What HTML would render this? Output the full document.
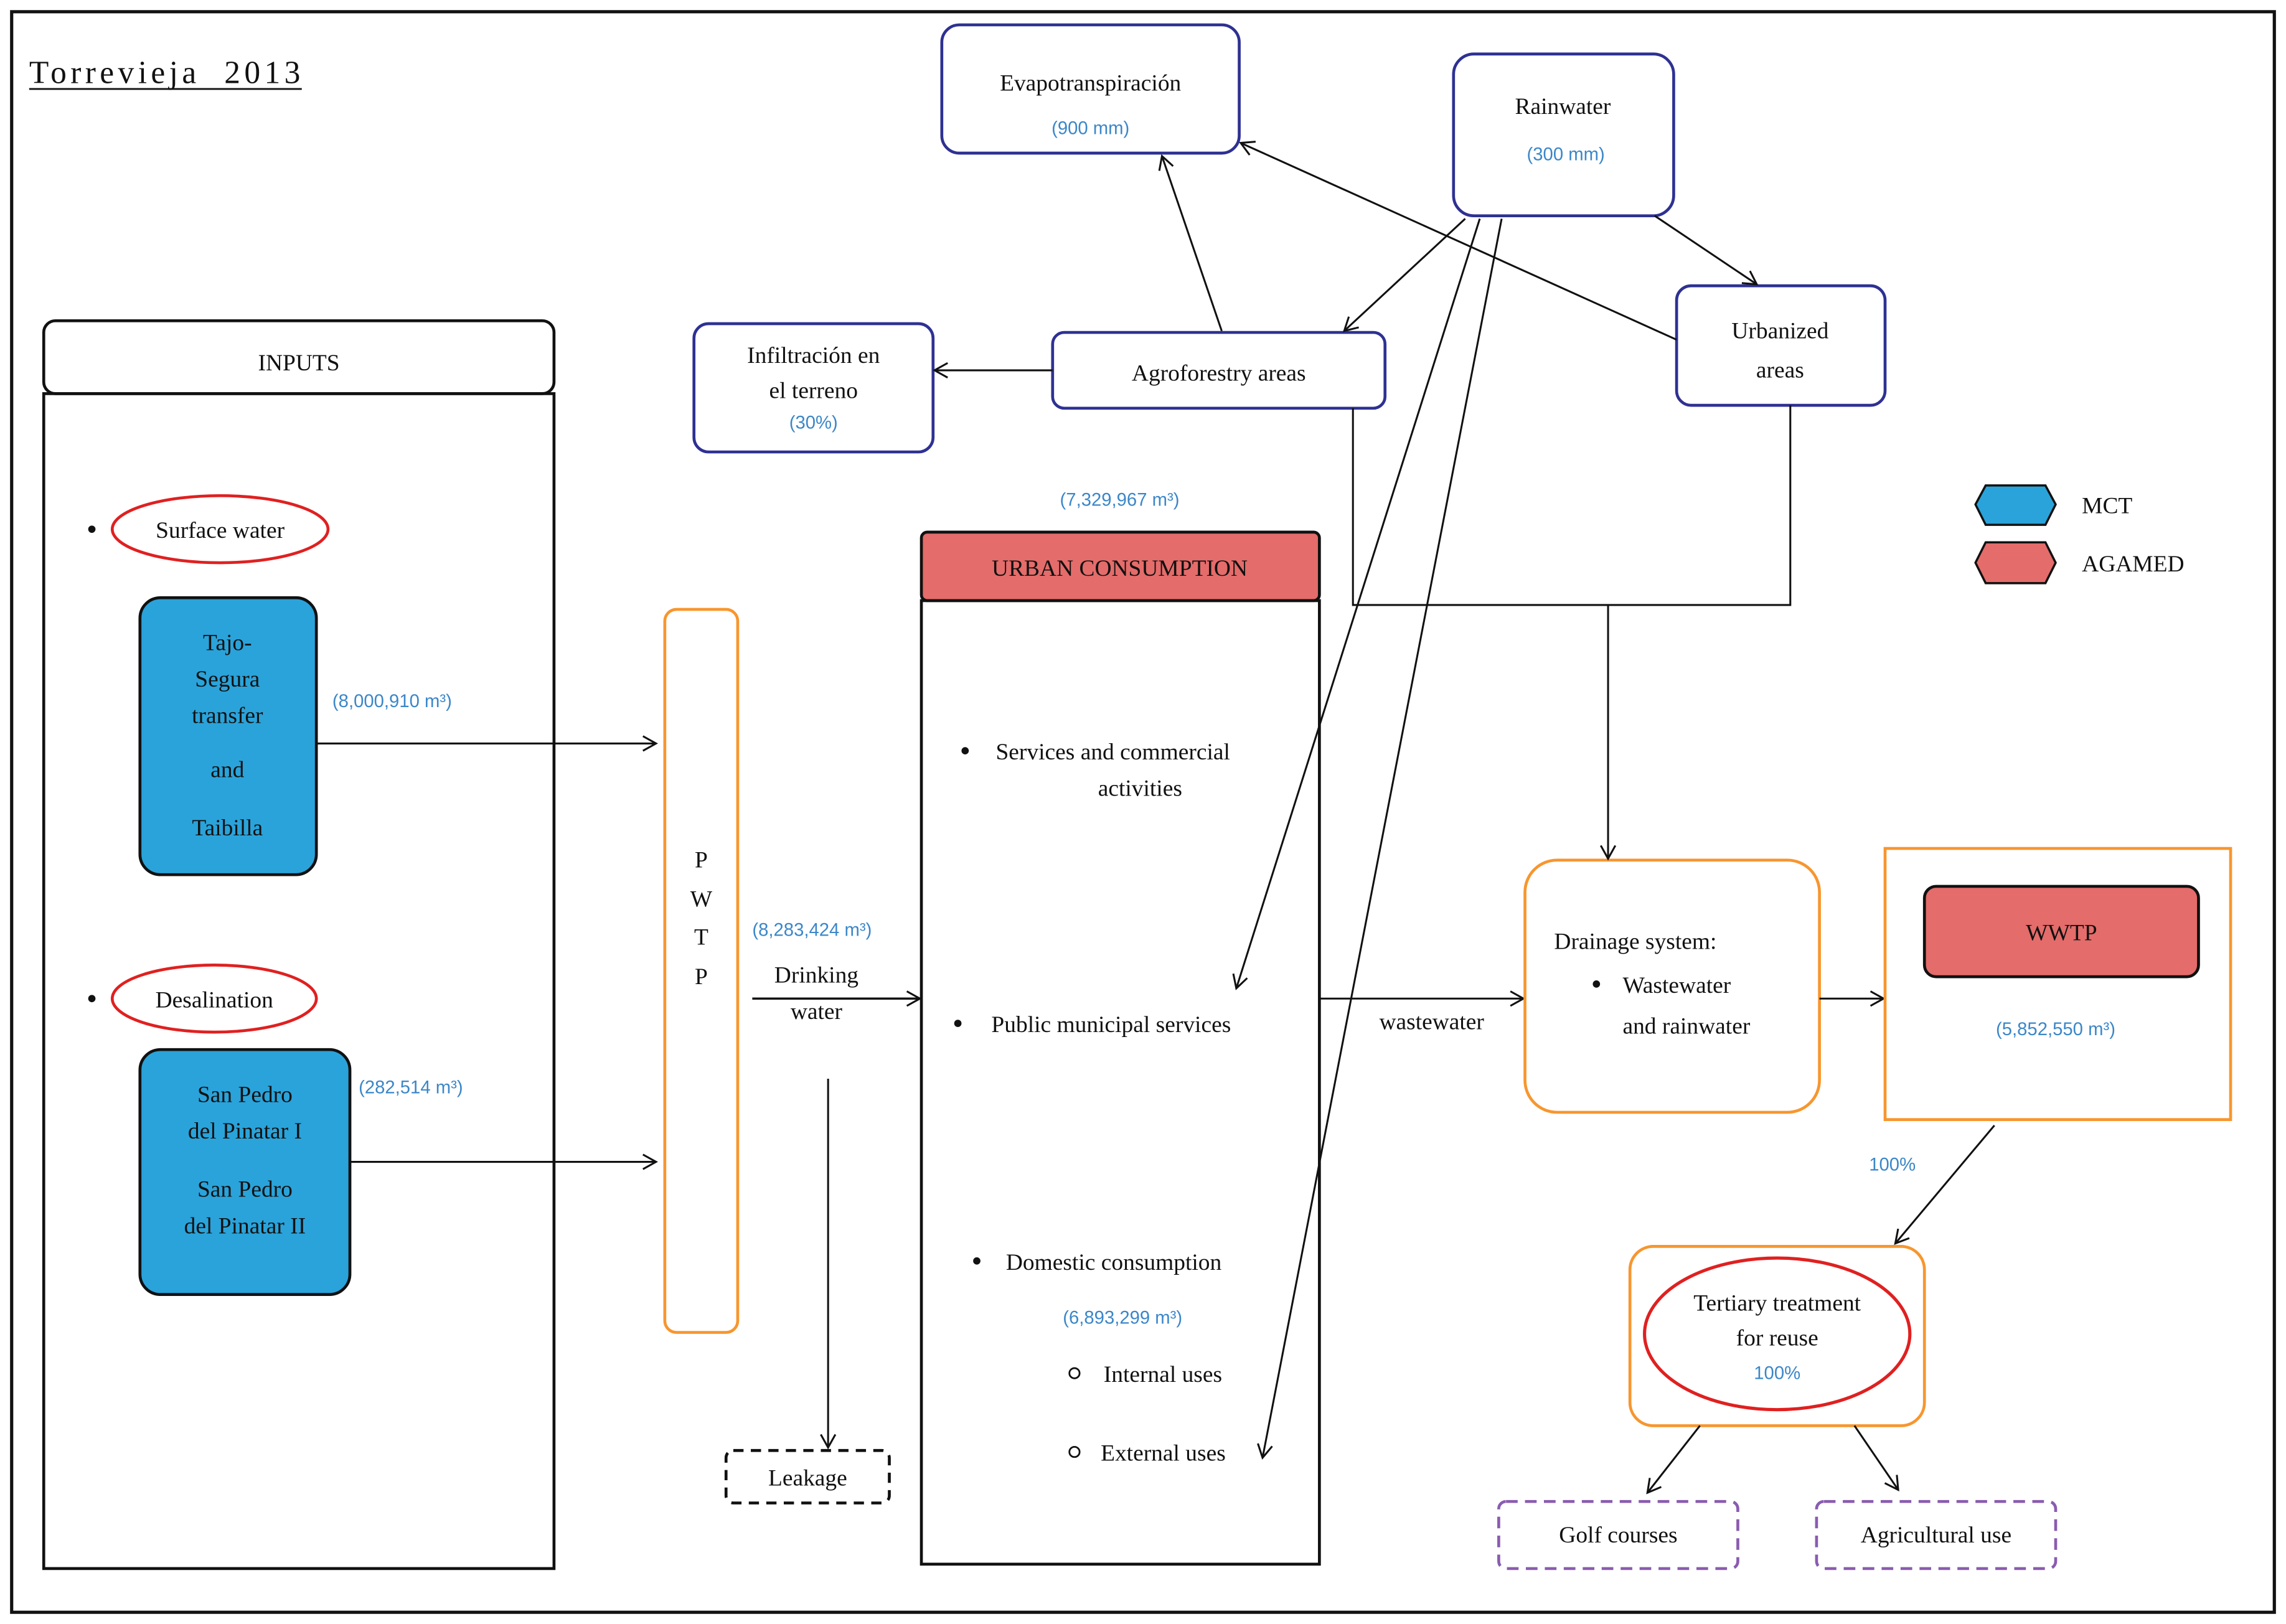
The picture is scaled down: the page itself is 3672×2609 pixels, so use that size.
<!DOCTYPE html>
<html><head><meta charset="utf-8"><style>
html,body{margin:0;padding:0;background:#fff;}
svg{display:block;}
text{font-family:"Liberation Serif",serif;font-size:16px;fill:#111;}
.b{font-family:"Liberation Sans",sans-serif;font-size:12.5px;fill:#3b87c9;}
.c{text-anchor:middle;}
</style></head><body>
<svg width="3672" height="2609" viewBox="0 0 1568 1114" xmlns="http://www.w3.org/2000/svg">
<defs>
<marker id="a" markerWidth="12" markerHeight="12" refX="10" refY="6" orient="auto" markerUnits="userSpaceOnUse">
<path d="M1,1 L10,6 L1,11" fill="none" stroke="#111" stroke-width="1.3"/></marker>
</defs>
<rect x="0" y="0" width="1568" height="1114" fill="#fff"/>
<rect x="8" y="8" width="1552" height="1098" fill="none" stroke="#111" stroke-width="2.2"/>
<text x="20" y="57" style="font-size:22px" textLength="186" lengthAdjust="spacing">Torrevieja&#160;&#160;2013</text>
<line x1="20" y1="61" x2="207" y2="61" stroke="#111" stroke-width="1.2"/>

<!-- INPUTS -->
<rect x="30" y="220" width="350" height="50" rx="8" fill="#fff" stroke="#111" stroke-width="2"/>
<text x="205" y="254" class="c">INPUTS</text>
<rect x="30" y="270" width="350" height="806" fill="none" stroke="#111" stroke-width="2"/>
<circle cx="63" cy="363" r="2.5" fill="#111"/>
<ellipse cx="151" cy="363" rx="74" ry="23" fill="none" stroke="#e02020" stroke-width="2"/>
<text x="151" y="369" class="c">Surface water</text>
<rect x="96" y="410" width="121" height="190" rx="14" fill="#2aa3da" stroke="#111" stroke-width="2"/>
<text x="156" y="446" class="c">Tajo-</text>
<text x="156" y="471" class="c">Segura</text>
<text x="156" y="496" class="c">transfer</text>
<text x="156" y="533" class="c">and</text>
<text x="156" y="573" class="c">Taibilla</text>
<text x="228" y="485" class="b">(8,000,910 m³)</text>
<line x1="217" y1="510" x2="450" y2="510" stroke="#111" stroke-width="1.3" marker-end="url(#a)"/>
<circle cx="63" cy="685" r="2.5" fill="#111"/>
<ellipse cx="147" cy="685" rx="70" ry="23" fill="none" stroke="#e02020" stroke-width="2"/>
<text x="147" y="691" class="c">Desalination</text>
<rect x="96" y="720" width="144" height="168" rx="14" fill="#2aa3da" stroke="#111" stroke-width="2"/>
<text x="168" y="756" class="c">San Pedro</text>
<text x="168" y="781" class="c">del Pinatar I</text>
<text x="168" y="821" class="c">San Pedro</text>
<text x="168" y="846" class="c">del Pinatar II</text>
<text x="246" y="750" class="b">(282,514 m³)</text>
<line x1="240" y1="797" x2="450" y2="797" stroke="#111" stroke-width="1.3" marker-end="url(#a)"/>

<!-- PWTP -->
<rect x="456" y="418" width="50" height="496" rx="8" fill="none" stroke="#f7962e" stroke-width="2"/>
<text x="481" y="595" class="c">P</text>
<text x="481" y="622" class="c">W</text>
<text x="481" y="648" class="c">T</text>
<text x="481" y="675" class="c">P</text>
<text x="516" y="642" class="b">(8,283,424 m³)</text>
<text x="560" y="674" class="c">Drinking</text>
<text x="560" y="699" class="c">water</text>
<line x1="516" y1="685" x2="631" y2="685" stroke="#111" stroke-width="1.5" marker-end="url(#a)"/>
<line x1="568" y1="740" x2="568" y2="993" stroke="#111" stroke-width="1.3" marker-end="url(#a)"/>
<rect x="498" y="995" width="112" height="36" rx="5" fill="none" stroke="#111" stroke-width="2" stroke-dasharray="7,5"/>
<text x="554" y="1019" class="c">Leakage</text>

<!-- URBAN -->
<text x="768" y="347" class="b c">(7,329,967 m³)</text>
<rect x="632" y="365" width="273" height="47" rx="4" fill="#e46c6a" stroke="#111" stroke-width="2"/>
<text x="768" y="395" class="c">URBAN CONSUMPTION</text>
<rect x="632" y="412" width="273" height="661" fill="none" stroke="#111" stroke-width="2"/>
<circle cx="662" cy="515" r="2.5" fill="#111"/>
<text x="683" y="521">Services and commercial</text>
<text x="782" y="546" class="c">activities</text>
<circle cx="657" cy="702" r="2.5" fill="#111"/>
<text x="680" y="708">Public municipal services</text>
<circle cx="670" cy="865" r="2.5" fill="#111"/>
<text x="690" y="871">Domestic consumption</text>
<text x="770" y="908" class="b c">(6,893,299 m³)</text>
<circle cx="737" cy="942" r="3.5" fill="none" stroke="#111" stroke-width="1.2"/>
<text x="757" y="948">Internal uses</text>
<circle cx="737" cy="996" r="3.5" fill="none" stroke="#111" stroke-width="1.2"/>
<text x="755" y="1002">External uses</text>

<line x1="905" y1="685" x2="1045" y2="685" stroke="#111" stroke-width="1.3" marker-end="url(#a)"/>
<text x="982" y="706" class="c">wastewater</text>

<!-- Drainage -->
<rect x="1046" y="590" width="202" height="173" rx="22" fill="none" stroke="#f7962e" stroke-width="2"/>
<text x="1066" y="651">Drainage system:</text>
<circle cx="1095" cy="675" r="2.5" fill="#111"/>
<text x="1113" y="681">Wastewater</text>
<text x="1113" y="709">and rainwater</text>
<line x1="1248" y1="685" x2="1292" y2="685" stroke="#111" stroke-width="1.3" marker-end="url(#a)"/>

<!-- WWTP -->
<rect x="1293" y="582" width="237" height="186" fill="none" stroke="#f7962e" stroke-width="2"/>
<rect x="1320" y="608" width="188" height="62" rx="8" fill="#e46c6a" stroke="#111" stroke-width="2"/>
<text x="1414" y="645" class="c">WWTP</text>
<text x="1410" y="710" class="b c">(5,852,550 m³)</text>
<text x="1282" y="803" class="b">100%</text>
<line x1="1368" y1="772" x2="1300" y2="853" stroke="#111" stroke-width="1.3" marker-end="url(#a)"/>

<!-- Tertiary -->
<rect x="1118" y="855" width="202" height="123" rx="16" fill="none" stroke="#f7962e" stroke-width="2"/>
<ellipse cx="1219" cy="915" rx="91" ry="52" fill="none" stroke="#e02020" stroke-width="2.2"/>
<text x="1219" y="899" class="c">Tertiary treatment</text>
<text x="1219" y="923" class="c">for reuse</text>
<text x="1219" y="946" class="b c">100%</text>
<line x1="1166" y1="978" x2="1130" y2="1024" stroke="#111" stroke-width="1.3" marker-end="url(#a)"/>
<line x1="1272" y1="978" x2="1302" y2="1022" stroke="#111" stroke-width="1.3" marker-end="url(#a)"/>
<rect x="1028" y="1030" width="164" height="46" rx="5" fill="none" stroke="#8a5cb0" stroke-width="2" stroke-dasharray="8,5"/>
<text x="1110" y="1058" class="c">Golf courses</text>
<rect x="1246" y="1030" width="164" height="46" rx="5" fill="none" stroke="#8a5cb0" stroke-width="2" stroke-dasharray="8,5"/>
<text x="1328" y="1058" class="c">Agricultural use</text>

<!-- Legend -->
<polygon points="1362,333 1403,333 1410,346 1403,360 1362,360 1355,346" fill="#2aa3da" stroke="#111" stroke-width="1.5"/>
<text x="1428" y="352">MCT</text>
<polygon points="1362,372 1403,372 1410,386 1403,400 1362,400 1355,386" fill="#e46c6a" stroke="#111" stroke-width="1.5"/>
<text x="1428" y="392">AGAMED</text>

<!-- Top -->
<rect x="646" y="17" width="204" height="88" rx="12" fill="#fff" stroke="#2e3192" stroke-width="2"/>
<text x="748" y="62" class="c">Evapotranspiración</text>
<text x="748" y="92" class="b c">(900 mm)</text>
<rect x="997" y="37" width="151" height="111" rx="14" fill="#fff" stroke="#2e3192" stroke-width="2"/>
<text x="1072" y="78" class="c">Rainwater</text>
<text x="1074" y="110" class="b c">(300 mm)</text>
<rect x="476" y="222" width="164" height="88" rx="10" fill="#fff" stroke="#2e3192" stroke-width="2"/>
<text x="558" y="249" class="c">Infiltración en</text>
<text x="558" y="273" class="c">el terreno</text>
<text x="558" y="294" class="b c">(30%)</text>
<rect x="722" y="228" width="228" height="52" rx="8" fill="#fff" stroke="#2e3192" stroke-width="2"/>
<text x="836" y="261" class="c">Agroforestry areas</text>
<rect x="1150" y="196" width="143" height="82" rx="10" fill="#fff" stroke="#2e3192" stroke-width="2"/>
<text x="1221" y="232" class="c">Urbanized</text>
<text x="1221" y="259" class="c">areas</text>

<line x1="838" y1="227" x2="797" y2="107" stroke="#111" stroke-width="1.3" marker-end="url(#a)"/>
<line x1="722" y1="254" x2="641" y2="254" stroke="#111" stroke-width="1.3" marker-end="url(#a)"/>
<line x1="1005" y1="150" x2="922" y2="227" stroke="#111" stroke-width="1.3" marker-end="url(#a)"/>
<line x1="1135" y1="148" x2="1205" y2="195" stroke="#111" stroke-width="1.3" marker-end="url(#a)"/>
<line x1="1150" y1="233" x2="851" y2="98" stroke="#111" stroke-width="1.3" marker-end="url(#a)"/>
<line x1="1015" y1="150" x2="848" y2="678" stroke="#111" stroke-width="1.3" marker-end="url(#a)"/>
<line x1="1030" y1="150" x2="866" y2="1000" stroke="#111" stroke-width="1.3" marker-end="url(#a)"/>
<polyline points="928,280 928,415 1228,415 1228,278" fill="none" stroke="#111" stroke-width="1.3"/>
<line x1="1103" y1="415" x2="1103" y2="589" stroke="#111" stroke-width="1.3" marker-end="url(#a)"/>
</svg>
</body></html>
